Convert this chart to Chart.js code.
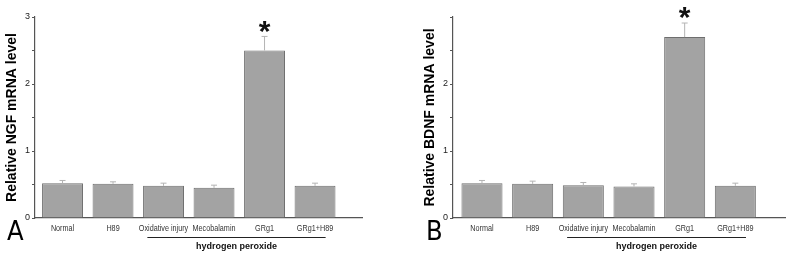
<!DOCTYPE html>
<html>
<head>
<meta charset="utf-8">
<script src="https://cdn.jsdelivr.net/npm/chart.js@4/dist/chart.umd.min.js"></script>
<style>
  body { margin: 0; background: #fff; }
  .panel { position: absolute; top: 0; height: 260px; }
</style>
</head>
<body>
<div class="panel" style="left:0;width:395px"><canvas id="chartA" width="395" height="260"></canvas></div>
<div class="panel" style="left:395px;width:394px"><canvas id="chartB" width="394" height="260"></canvas></div>
<script>
// groups on the x axis
const categories = ['Normal', 'H89', 'Oxidative injury', 'Mecobalamin', 'GRg1', 'GRg1+H89'];

// panel A - NGF
const ngfMean = [0.52, 0.51, 0.48, 0.45, 2.50, 0.48];
const ngfErr = [0.04, 0.03, 0.04, 0.04, 0.21, 0.04];
const ngfTicks = ['0', '1', '2', '3'];

// panel B - BDNF
const bdnfMean = [0.52, 0.51, 0.49, 0.47, 2.70, 0.48];
const bdnfErr = [0.04, 0.04, 0.04, 0.04, 0.21, 0.04];
const bdnfTicks = ['0', '1', '2', ''];

// significance markers (index of group)
const starGroups = [4];
const bracketLabel = 'hydrogen peroxide';
const bracketFrom = 2; // Oxidative injury .. GRg1+H89
const bracketTo = 5;

const SANS = '"Liberation Sans", Arial, sans-serif';

// draws error bars, the star, the bracket, condensed x labels and the panel letter
const extrasPlugin = {
    id: 'extras',
    afterDatasetsDraw(chart, args, opts) {
        const ctx = chart.ctx;
        const x = chart.scales.x, y = chart.scales.y;
        ctx.save();
        ctx.strokeStyle = '#b4b4b4';
        ctx.lineWidth = 1;
        opts.mean.forEach((m, i) => {
            const px = x.getPixelForValue(i + 1);
            const top = y.getPixelForValue(m + opts.err[i]);
            const base = y.getPixelForValue(m);
            ctx.beginPath();
            ctx.moveTo(px, base);
            ctx.lineTo(px, top);
            ctx.moveTo(px - 3, top);
            ctx.lineTo(px + 3, top);
            ctx.stroke();
        });
        // star
        ctx.fillStyle = '#111';
        ctx.font = 'bold 30px ' + SANS;
        ctx.textAlign = 'center';
        ctx.textBaseline = 'middle';
        starGroups.forEach(i => {
            const px = x.getPixelForValue(i + 1);
            const top = y.getPixelForValue(opts.mean[i] + opts.err[i]);
            ctx.fillText('*', px, top - 4);
        });
        // category labels, slightly condensed like the original
        ctx.font = '8.5px ' + SANS;
        ctx.fillStyle = '#333';
        categories.forEach((c, i) => {
            const px = x.getPixelForValue(i + 1);
            ctx.save();
            ctx.translate(px, 229);
            ctx.scale(0.85, 1);
            ctx.fillText(c, 0, 0);
            ctx.restore();
        });
        // bracket under labels
        const x1 = x.getPixelForValue(bracketFrom + 1 - 0.32);
        const x2 = x.getPixelForValue(bracketTo + 1 + 0.21);
        ctx.strokeStyle = '#222';
        ctx.lineWidth = 1;
        ctx.beginPath();
        ctx.moveTo(x1, 237.5);
        ctx.lineTo(x2, 237.5);
        ctx.stroke();
        ctx.font = 'bold 9px ' + SANS;
        ctx.fillStyle = '#111';
        ctx.fillText(bracketLabel, (x1 + x2) / 2, 247);
        // panel letter
        ctx.font = '27px "Liberation Sans Narrow", "DejaVu Sans Condensed", sans-serif';
        ctx.textAlign = 'left';
        ctx.textBaseline = 'alphabetic';
        ctx.fillStyle = '#000';
        ctx.fillText(opts.letter, opts.letterX, 240);
        ctx.restore();
    }
};

function makeChart(id, mean, err, tickLabels, title, letter, letterX, padLeft, padRight, xMin, xMax) {
    return new Chart(document.getElementById(id), {
        type: 'bar',
        data: {
            datasets: [{
                data: mean.map((v, i) => ({ x: i + 1, y: v })),
                backgroundColor: '#a3a3a3',
                borderColor: '#6e6e6e',
                borderWidth: 1,
                categoryPercentage: 1,
                barPercentage: 0.81
            }]
        },
        options: {
            responsive: false,
            animation: false,
            layout: { padding: { top: 17, left: padLeft, right: padRight, bottom: 0 } },
            plugins: {
                legend: { display: false },
                tooltip: { enabled: false },
                extras: { mean: mean, err: err, letter: letter, letterX: letterX }
            },
            scales: {
                x: {
                    type: 'linear',
                    offset: false,
                    min: xMin,
                    max: xMax,
                    afterBuildTicks: s => { s.ticks = categories.map((c, i) => ({ value: i + 1 })); },
                    afterFit: s => { s.height = 42; },
                    grid: { display: false },
                    border: { display: true, color: '#555', width: 1.2 },
                    ticks: { display: false }
                },
                y: {
                    min: 0,
                    max: 3,
                    afterFit: s => { s.width = 35; },
                    grid: { drawOnChartArea: false, drawTicks: true, tickLength: 3, color: '#555' },
                    border: { display: true, color: '#555', width: 1.2 },
                    ticks: {
                        stepSize: 0.5,
                        padding: 2,
                        color: '#222',
                        font: { family: SANS, size: 9 },
                        callback: v => Number.isInteger(v) ? tickLabels[v] : ''
                    },
                    title: {
                        display: true,
                        text: title,
                        color: '#000',
                        padding: { top: 4, bottom: 0 },
                        font: { family: SANS, size: 14, weight: 'bold' }
                    }
                }
            }
        },
        plugins: [extrasPlugin]
    });
}

makeChart('chartA', ngfMean, ngfErr, ngfTicks, 'Relative NGF mRNA level', 'A', 7, 0, 33, 0.455, 6.93);
makeChart('chartB', bdnfMean, bdnfErr, bdnfTicks, 'Relative BDNF mRNA level', 'B', 31, 23, 4, 0.428, 6.98);
</script>
</body>
</html>
